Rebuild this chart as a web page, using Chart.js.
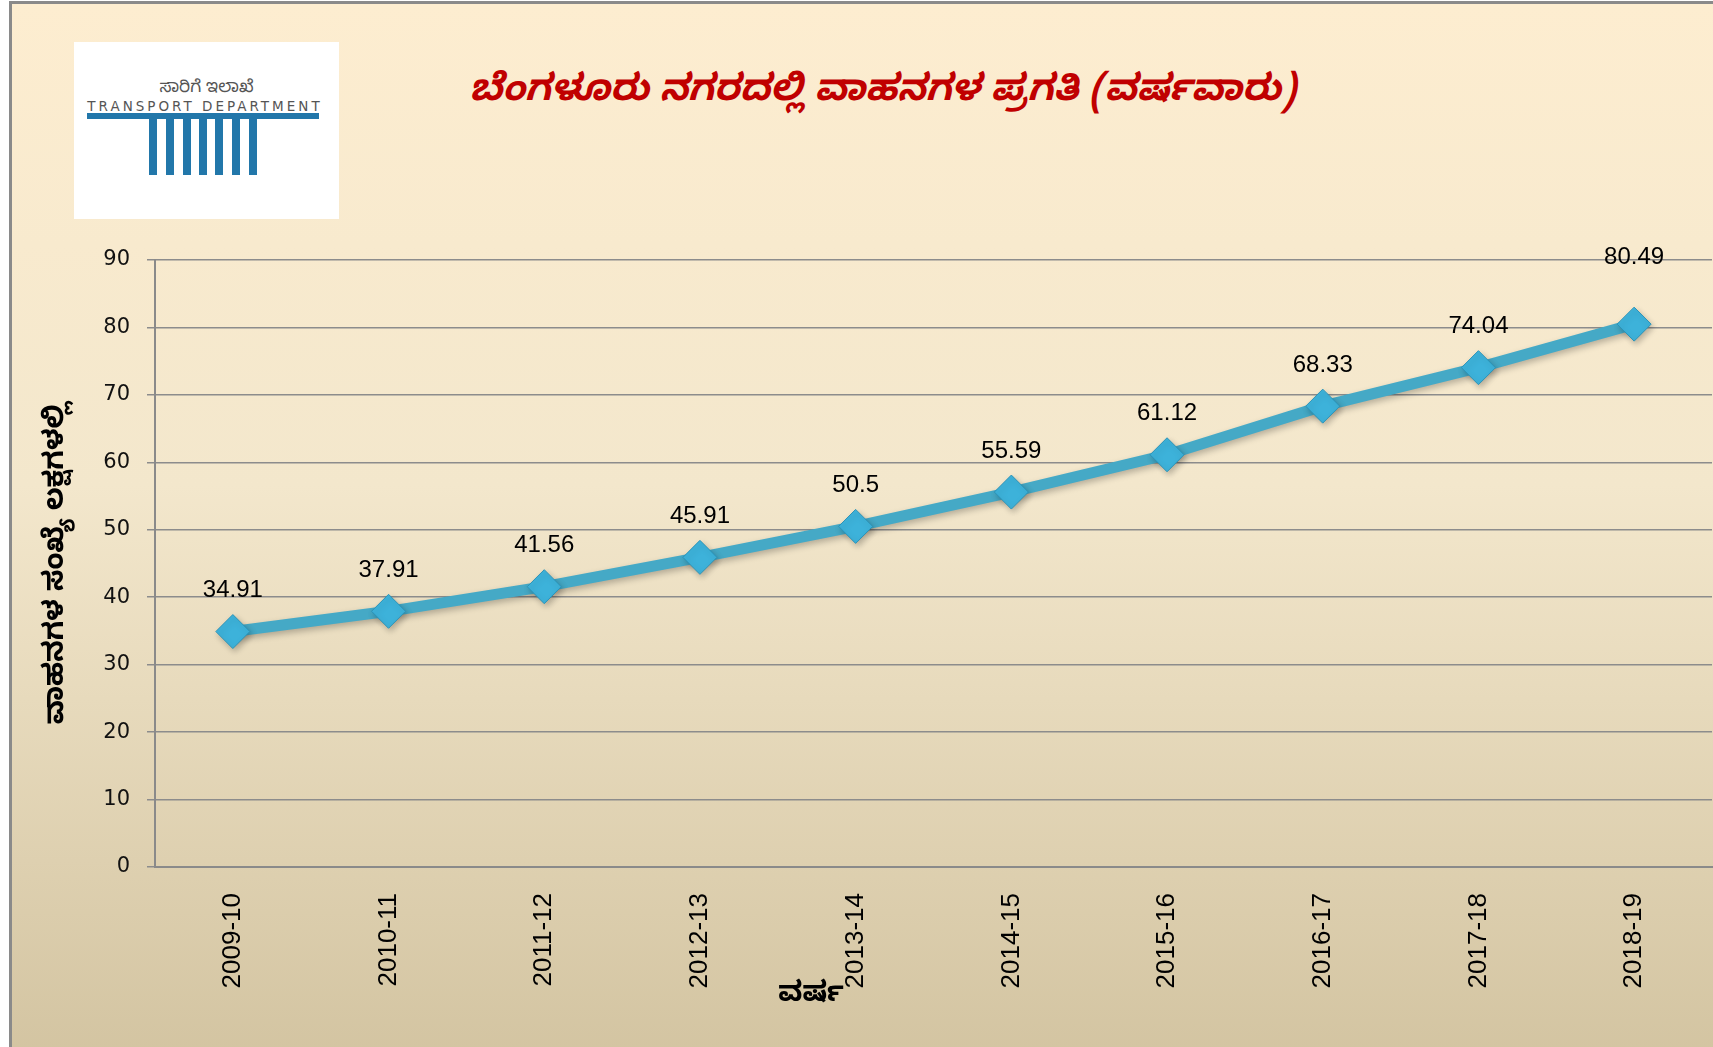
<!DOCTYPE html>
<html>
<head>
<meta charset="utf-8">
<script src="https://cdn.jsdelivr.net/npm/chart.js@4.4.1/dist/chart.umd.min.js"></script>
<style>
  html, body { margin: 0; padding: 0; width: 1713px; height: 1047px; overflow: hidden; background: #ffffff; }
  #frame {
    position: absolute; left: 9px; top: 1px; width: 1720px; height: 1070px;
    border-left: 3px solid #8a8a8a; border-top: 3px solid #8a8a8a;
    background: linear-gradient(to bottom, #fdedd0 0%, #f3e7cc 45%, #d2c3a0 100%);
  }
  #chartWrap { position: absolute; left: 0; top: 0; width: 1730px; height: 1047px; }
  #logo { position: absolute; left: 74px; top: 42px; width: 265px; height: 177px; background: #ffffff; }
  #logo .kn { position: absolute; left: 0; width: 265px; top: 36px; text-align: center; font: 17px "Noto Sans Kannada", "Noto Sans", sans-serif; color: #555; }
  #logo .en { position: absolute; left: 13px; width: 236px; top: 56px; text-align: center; font: 13.5px "DejaVu Sans", sans-serif; color: #555; letter-spacing: 3px; white-space: nowrap; }
  #logo .bar { position: absolute; background: #2277aa; }
  #title { position: absolute; left: 383px; width: 1000px; top: 70px; text-align: center;
    font: italic bold 37px "Noto Sans Kannada", "Noto Sans", sans-serif; color: #c00000; white-space: nowrap; }
  #xtitle { position: absolute; left: 766px; width: 90px; top: 978px; text-align: center;
    font: bold 28px "Noto Sans Kannada", "Noto Sans", sans-serif; color: #000; }
</style>
</head>
<body>
<div id="frame"></div>
<div id="logo">
  <div class="kn">ಸಾರಿಗೆ ಇಲಾಖೆ</div>
  <div class="en">TRANSPORT DEPARTMENT</div>
  <div class="bar" style="left:13px; top:71px; width:232px; height:6px;"></div>
  <div class="bar" style="left:75px; top:71px; width:8px; height:62px;"></div>
  <div class="bar" style="left:92px; top:71px; width:8px; height:62px;"></div>
  <div class="bar" style="left:109px; top:71px; width:8px; height:62px;"></div>
  <div class="bar" style="left:125px; top:71px; width:8px; height:62px;"></div>
  <div class="bar" style="left:141px; top:71px; width:8px; height:62px;"></div>
  <div class="bar" style="left:158px; top:71px; width:8px; height:62px;"></div>
  <div class="bar" style="left:175px; top:71px; width:8px; height:62px;"></div>
</div>
<div id="title">ಬೆಂಗಳೂರು ನಗರದಲ್ಲಿ ವಾಹನಗಳ ಪ್ರಗತಿ (ವರ್ಷವಾರು)</div>
<div id="chartWrap"><canvas id="c" width="1730" height="1047"></canvas></div>
<div id="xtitle">ವರ್ಷ</div>
<script>
const years = ["2009-10","2010-11","2011-12","2012-13","2013-14","2014-15","2015-16","2016-17","2017-18","2018-19"];
const vehicles = [34.91, 37.91, 41.56, 45.91, 50.5, 55.59, 61.12, 68.33, 74.04, 80.49];
const yTicks = [0, 10, 20, 30, 40, 50, 60, 70, 80, 90];
const yTitle = "ವಾಹನಗಳ ಸಂಖ್ಯೆ ಲಕ್ಷಗಳಲ್ಲಿ";

const labelPlugin = {
  id: 'valueLabels',
  afterDatasetsDraw(chart, args, opts) {
    const ctx = chart.ctx;
    const meta = chart.getDatasetMeta(0);
    ctx.save();
    ctx.font = opts.font;
    ctx.fillStyle = opts.color;
    ctx.textAlign = 'center';
    ctx.textBaseline = 'middle';
    meta.data.forEach((pt, i) => {
      const v = chart.data.datasets[0].data[i];
      const off = (opts.extraOffset && opts.extraOffset[i]) ? opts.extraOffset[i] : opts.offset;
      ctx.fillText(String(v), pt.x, pt.y - off);
    });
    ctx.restore();
  }
};

const shadowPlugin = {
  id: 'lineShadow',
  beforeDatasetsDraw(chart) {
    const ctx = chart.ctx;
    ctx.save();
    ctx.shadowColor = 'rgba(0,0,0,0.25)';
    ctx.shadowBlur = 6;
    ctx.shadowOffsetX = 2;
    ctx.shadowOffsetY = 3;
  },
  afterDatasetsDraw(chart) {
    chart.ctx.restore();
  }
};

const ctx = document.getElementById('c').getContext('2d');
new Chart(ctx, {
  type: 'line',
  data: {
    labels: years,
    datasets: [{
      data: vehicles,
      borderColor: '#45a9c6',
      borderWidth: 11,
      tension: 0,
      pointStyle: 'rectRot',
      pointRadius: 17,
      pointHoverRadius: 17,
      pointBackgroundColor: '#3db2da',
      pointBorderColor: '#2a93b8',
      pointBorderWidth: 1
    }]
  },
  plugins: [shadowPlugin, labelPlugin],
  options: {
    responsive: false,
    animation: false,
    events: [],
    layout: { padding: { left: 0, right: 4, top: 260, bottom: 0 } },
    plugins: {
      legend: { display: false },
      tooltip: { enabled: false },
      valueLabels: { font: '24px "Liberation Sans", Arial, sans-serif', color: '#000', offset: 41, extraOffset: {9: 67} }
    },
    scales: {
      x: {
        offset: true,
        grid: { display: false, drawTicks: false },
        border: { display: true, color: '#8a8a8a', width: 2 },
        ticks: {
          autoSkip: false, maxRotation: 90, minRotation: 90, padding: 26,
          color: '#000', font: { family: '"Liberation Sans", Arial, sans-serif', size: 26 }
        },
        afterFit(scale) { scale.height = 180; scale.paddingLeft = 0; scale.paddingRight = 0; }
      },
      y: {
        min: 0, max: 90,
        afterBuildTicks(scale) { scale.ticks = yTicks.map(v => ({ value: v })); },
        grid: { color: '#8c8c8c', lineWidth: 1.5, tickLength: 8, drawTicks: true },
        border: { display: true, color: '#8a8a8a', width: 2 },
        ticks: { padding: 17, color: '#111', font: { family: '"DejaVu Sans", sans-serif', size: 21 } },
        title: {
          display: true, text: yTitle, color: '#000',
          font: { family: '"Noto Sans Kannada", "Noto Sans", sans-serif', size: 28, weight: 'bold' },
          padding: { top: 43, bottom: 0 }
        },
        afterFit(scale) { scale.width = 155; scale.paddingTop = 0; scale.paddingBottom = 0; }
      }
    }
  }
});
</script>
</body>
</html>
